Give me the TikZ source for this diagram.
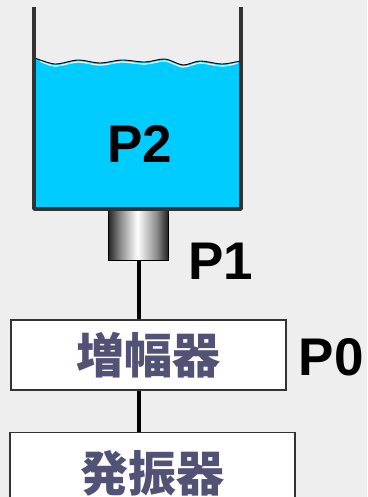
\documentclass[tikz,border=0pt]{standalone}
\usepackage{fontspec}
\setmainfont{Liberation Sans}
\newfontfamily\cjk{Noto Sans CJK JP}
\usetikzlibrary{calc, positioning}
\definecolor{water}{RGB}{0,204,255}
\definecolor{wall}{RGB}{51,51,51}
\definecolor{cjktext}{RGB}{82,82,118}
\definecolor{paper}{RGB}{238,238,238}
% only the middle half (25bp--75bp) ends up inside the node
\pgfdeclarehorizontalshading{sensorshade}{100bp}{color(0bp)=(black!85); color(25bp)=(black!85);
  color(35bp)=(black!45); color(49bp)=(white); color(65bp)=(black!45); color(75bp)=(black!88);
  color(100bp)=(black!88)}
\tikzset{
    labelnode/.style = {draw=none, inner sep=0em, font=\bfseries\fontsize{53}{53}\selectfont},
    blocknode/.style = {draw=wall, line width=1.5pt, fill=white, inner sep=0em, minimum height=70pt,
      font=\cjk\bfseries\fontsize{48}{48}\selectfont, text=cjktext},
    sensornode/.style = {draw=black, line width=1pt, shading=sensorshade, inner sep=0em,
      minimum width=60pt, minimum height=51pt},
    wire/.style = {black, line width=4.5pt}
}

\begin{document}
\begin{tikzpicture}[x=1pt, y=-1pt]
    \clip (0,0) rectangle (367,497);
    \fill[paper] (0,0) rectangle (367,497);

    % water with a wavy surface
    \fill[water] plot[smooth] coordinates {(35,58) (55,64) (78,60) (100,63) (122,60) (145,62)
      (165,59) (183,65) (200,61) (222,64) (240,61)} -- (240,208) -- (35,208) -- cycle;
    \draw[white, line width=1.2pt] plot[smooth] coordinates {(40,61) (55,66) (78,62) (100,65)
      (122,62) (145,64) (165,61) (183,67) (200,63) (222,66) (238,63)};
    \draw[black, line width=0.9pt] plot[smooth] coordinates {(35,58) (55,64) (78,60) (100,63)
      (122,60) (145,62) (165,59) (183,65) (200,61) (222,64) (240,61)};

    \node [sensornode, name=sensor] at (138.5,234.5) {};
    \draw[wall, line width=3.5pt, line join=round] (34,7) -- (34,209) -- (241,209) -- (241,7);
    \node [labelnode, name=P2] at (140,144) {P2};
    \node [labelnode, name=P1] at (221,261) {P1};

    \node [blocknode, name=amp, minimum width=275pt] at (148.5,355) {増幅器};
    \node [blocknode, name=osc, minimum width=285pt, minimum height=82pt, below=40pt of amp, xshift=4pt,
      yshift=-1pt] {\raisebox{-6pt}{発振器}};
    \node [labelnode, name=P0, right=12pt of amp, yshift=-2pt] {P0};

    % wires run down the same vertical line
    \coordinate (wirex) at (139,0);
    \draw[wire] (sensor.south -| wirex) -- (amp.north -| wirex);
    \draw[wire] (amp.south -| wirex) -- (osc.north -| wirex);
\end{tikzpicture}
\end{document}
